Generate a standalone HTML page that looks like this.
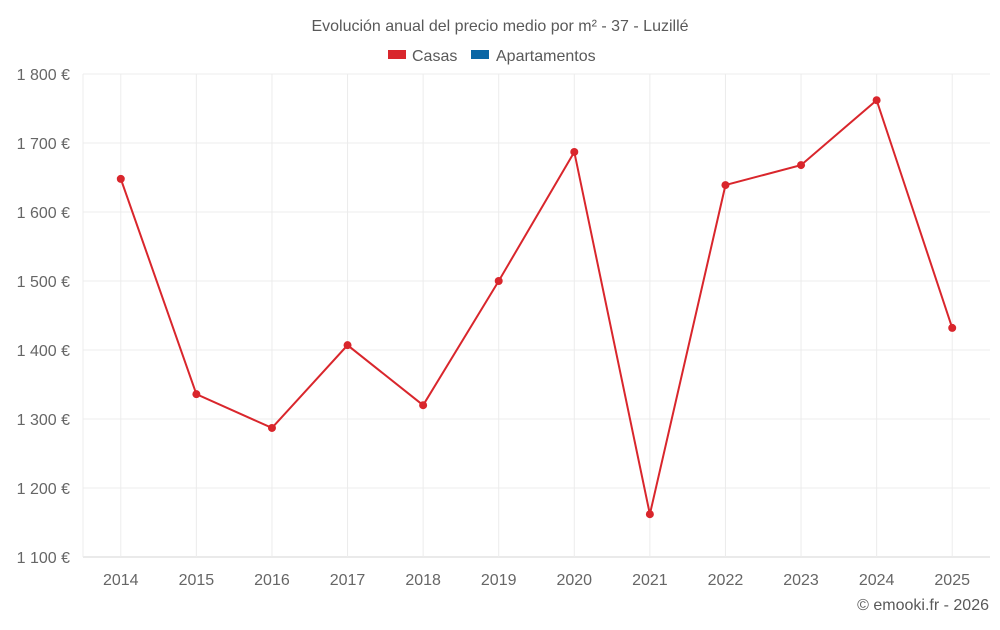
<!DOCTYPE html>
<html><head><meta charset="utf-8"><style>
body{margin:0;background:#fff;font-family:"Liberation Sans",sans-serif;}
svg text{font-family:"Liberation Sans",sans-serif;}
</style></head><body>
<svg id="chart" width="1000" height="625">
<text x="500" y="31" text-anchor="middle" font-size="16" fill="#595959">Evolución anual del precio medio por m² - 37 - Luzillé</text>
<g>
<g><rect x="388" y="50" width="18" height="9" fill="#d9262c"/><text x="412" y="61" font-size="16" fill="#595959">Casas</text></g>
<g><rect x="471" y="50" width="18" height="9" fill="#0a66a5"/><text x="496" y="61" font-size="16" fill="#595959">Apartamentos</text></g>
</g>
<g id="grid"></g><g id="axes"></g><g id="series"></g>
<text x="989" y="610" text-anchor="end" font-size="16" fill="#595959">© emooki.fr - 2026</text>
</svg>
<script>
const years=["2014","2015","2016","2017","2018","2019","2020","2021","2022","2023","2024","2025"];
const casas=[1648,1336,1287,1407,1320,1500,1687,1162,1639,1668,1762,1432];
const yTicks=[1100,1200,1300,1400,1500,1600,1700,1800];
const yTickLabels=["1 100 €","1 200 €","1 300 €","1 400 €","1 500 €","1 600 €","1 700 €","1 800 €"];
const NS="http://www.w3.org/2000/svg";
const L=83,R=990,T=74,B=557,ymin=1100,ymax=1800;
const bw=(R-L)/years.length;
const x=i=>L+bw*(i+0.5);
const y=v=>B-(v-ymin)/(ymax-ymin)*(B-T);
function mk(t,a,p){const e=document.createElementNS(NS,t);for(const k in a)e.setAttribute(k,a[k]);p.appendChild(e);return e;}
const g=document.getElementById('grid'),ax=document.getElementById('axes'),s=document.getElementById('series');
yTicks.forEach((v,i)=>{
 const l=mk('line',{x1:L,x2:R,y1:y(v),y2:y(v),stroke:i==0?'#d4d4d4':'#ececec'},g);
 
 
 const t=mk('text',{x:70,y:y(v)+6,'text-anchor':'end','font-size':16,fill:'#666'},ax);
 t.textContent=yTickLabels[i];
 
 
});
const el=mk('line',{x1:L,x2:L,y1:T,y2:B,stroke:'#ececec'},g);


years.forEach((yr,i)=>{
 const l=mk('line',{x1:x(i),x2:x(i),y1:T,y2:B,stroke:'#ececec'},g);
 
 
 const t=mk('text',{x:x(i),y:585,'text-anchor':'middle','font-size':16,fill:'#666'},ax);
 t.textContent=yr;
 
 
});
const p=mk('polyline',{points:casas.map((v,i)=>x(i)+','+y(v)).join(' '),fill:'none',stroke:'#d9262c','stroke-width':2},s);


casas.forEach((v,i)=>{
 const c=mk('circle',{cx:x(i),cy:y(v),r:4,fill:'#d9262c'},s);
 
 
});
</script>
</body></html>
